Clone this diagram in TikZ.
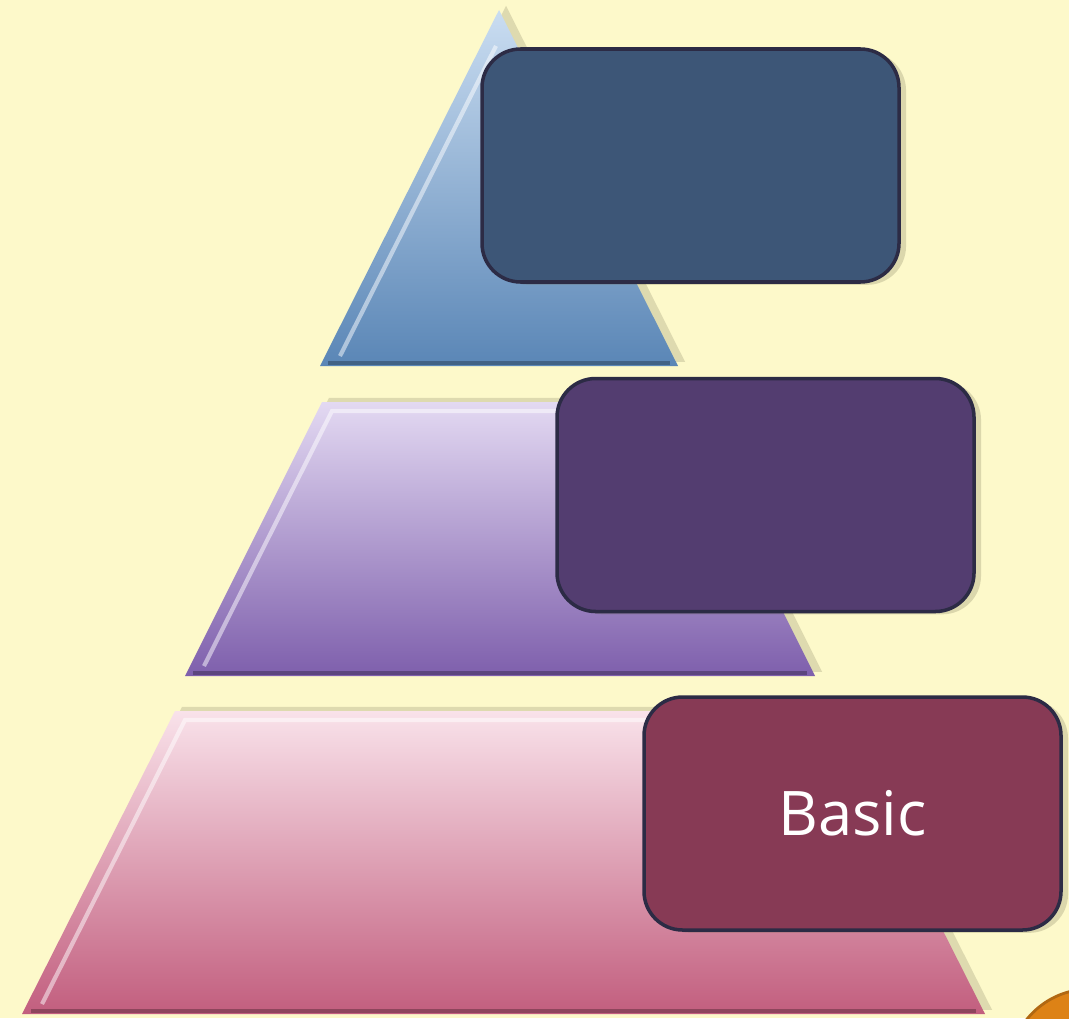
\documentclass[tikz,border=0pt]{standalone}
\usepackage{fontspec}
\setmainfont{Open Sans}
\usetikzlibrary{shadows}
\definecolor{bgyellow}{HTML}{FDF9CA}
\definecolor{tritop}{HTML}{CADDF1}
\definecolor{tribot}{HTML}{5A86B6}
\definecolor{midtop}{HTML}{E3D9F2}
\definecolor{midbot}{HTML}{7E5FAC}
\definecolor{lowtop}{HTML}{F9E2EA}
\definecolor{lowbot}{HTML}{C25E7E}
\definecolor{topfill}{HTML}{3D5677}
\definecolor{midfill}{HTML}{533D70}
\definecolor{lowfill}{HTML}{873A55}
\definecolor{boxedge}{HTML}{2C2B45}
\definecolor{ballorange}{HTML}{DD8216}
\begin{document}
\begin{tikzpicture}[
  tier/.style={draw=none, drop shadow={shadow xshift=2pt, shadow yshift=1.2pt, opacity=.2, fill=black!70!yellow}},
  shine/.style={white, opacity=.5, line width=1.2pt},
  labelbox/.style={draw=boxedge, line width=1pt, rounded corners=11pt, minimum width=4.17cm, minimum height=2.33cm,
    text=white, font=\fontsize{17.5}{20}\selectfont,
    drop shadow={shadow xshift=2pt, shadow yshift=-.8pt, opacity=.22, fill=black!70!yellow}},
]
\useasboundingbox (0,0) rectangle (10.69,10.18);
\fill[bgyellow] (0,0) rectangle (10.69,10.18);

\draw[tier, top color=tritop, bottom color=tribot] (3.20,6.52) -- (4.99,10.08) -- (6.78,6.52) -- cycle;
\draw[shine] (3.40,6.62) -- (4.96,9.72);
\draw[tribot!55!black, line width=1.2pt, opacity=.6] (3.28,6.55) -- (6.70,6.55);

\draw[tier, top color=midtop, bottom color=midbot] (1.85,3.42) -- (3.22,6.16) -- (6.78,6.16) -- (8.15,3.42) -- cycle;
\draw[shine] (2.04,3.52) -- (3.32,6.07) -- (6.70,6.07);
\draw[midbot!55!black, line width=1.2pt, opacity=.6] (1.93,3.45) -- (8.07,3.45);

\draw[tier, top color=lowtop, bottom color=lowbot] (0.22,0.04) -- (1.75,3.07) -- (8.32,3.07) -- (9.85,0.04) -- cycle;
\draw[shine] (0.42,0.14) -- (1.85,2.98) -- (8.24,2.98);
\draw[lowbot!55!black, line width=1.2pt, opacity=.6] (0.31,0.07) -- (9.76,0.07);

\node[labelbox, fill=topfill] (apex) at (6.905,8.525) {};
\node[labelbox, fill=midfill] (middle) at (7.655,5.23) {};
\node[labelbox, fill=lowfill] (basic) at (8.525,2.045) {Basic};

\draw[ballorange!80!black, fill=ballorange, line width=.8pt] (10.90,-0.52) circle (0.81);
\end{tikzpicture}
\end{document}
